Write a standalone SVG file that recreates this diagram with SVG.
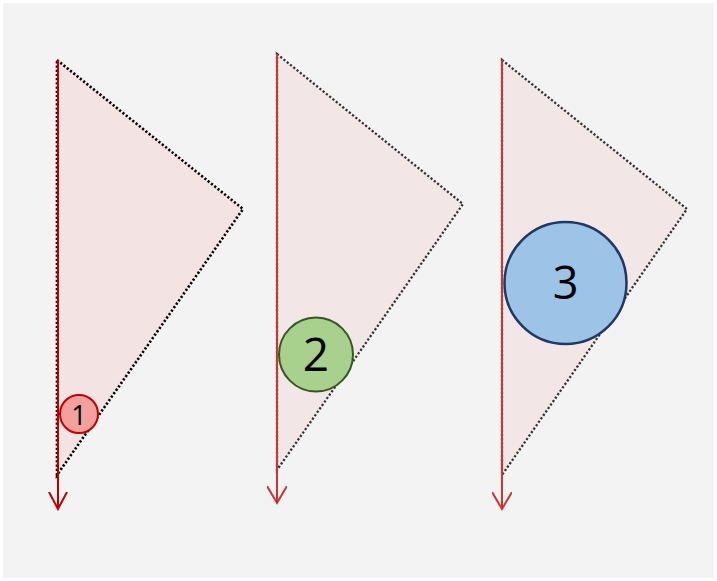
<svg xmlns="http://www.w3.org/2000/svg" width="717" height="581" viewBox="0 0 717 581">
<style>
.tri{stroke-dasharray:2.2 2;stroke-linecap:butt;stroke-linejoin:miter}
.t1{fill:#f4e3e3;stroke:#000;stroke-width:2.6}
.t2{fill:#f3e6e6;stroke:#333;stroke-width:2.3}
.lbl{font-family:"Open Sans","Liberation Sans",sans-serif;text-anchor:middle;fill:#000}
</style>
<defs>
<marker id="ahA" viewBox="0 0 20 20" refX="17" refY="10" markerWidth="20" markerHeight="20" markerUnits="userSpaceOnUse" orient="auto">
<path d="M0,1 L17,10 L0,19" fill="none" stroke="#c00000" stroke-width="2"/>
</marker>
<marker id="ahB" viewBox="0 0 20 20" refX="17" refY="10" markerWidth="20" markerHeight="20" markerUnits="userSpaceOnUse" orient="auto">
<path d="M0,0 L17,10 L0,20" fill="none" stroke="#cc3333" stroke-width="2"/>
</marker>
</defs>
<rect x="0" y="0" width="717" height="581" fill="#ffffff"/>
<rect x="3" y="3" width="711" height="575" fill="#f3f3f3"/>
<g id="shape1">
<polygon class="tri t1" points="57,60 243,209 57,475"/>
</g>
<g id="shape2">
<polygon class="tri t2" points="277,54 463,204 277,470"/>
</g>
<g id="shape3">
<polygon class="tri t2" points="502,60 687,209 502,475"/>
</g>
<g id="connectors">
<line x1="58" y1="60" x2="58" y2="509" stroke="#c00000" stroke-width="2" marker-end="url(#ahA)"/>
<line x1="277" y1="54" x2="277" y2="503" stroke="#cc3333" stroke-width="2" marker-end="url(#ahB)"/>
<line x1="502" y1="60" x2="502" y2="509" stroke="#cc3333" stroke-width="2" marker-end="url(#ahB)"/>
</g>
<g id="node1">
<circle cx="79" cy="414" r="19" fill="#f4a09c" stroke="#c00000" stroke-width="2"/>
<text class="lbl" x="79" y="424.5" font-size="27">1</text>
</g>
<g id="node2">
<circle cx="316" cy="354.5" r="37" fill="#a9d18e" stroke="#375623" stroke-width="2"/>
<text class="lbl" x="316" y="371" font-size="46">2</text>
</g>
<g id="node3">
<circle cx="565.5" cy="283" r="61" fill="#9dc3e6" stroke="#1f3864" stroke-width="2.5"/>
<text class="lbl" x="565.5" y="299" font-size="45">3</text>
</g>
</svg>
